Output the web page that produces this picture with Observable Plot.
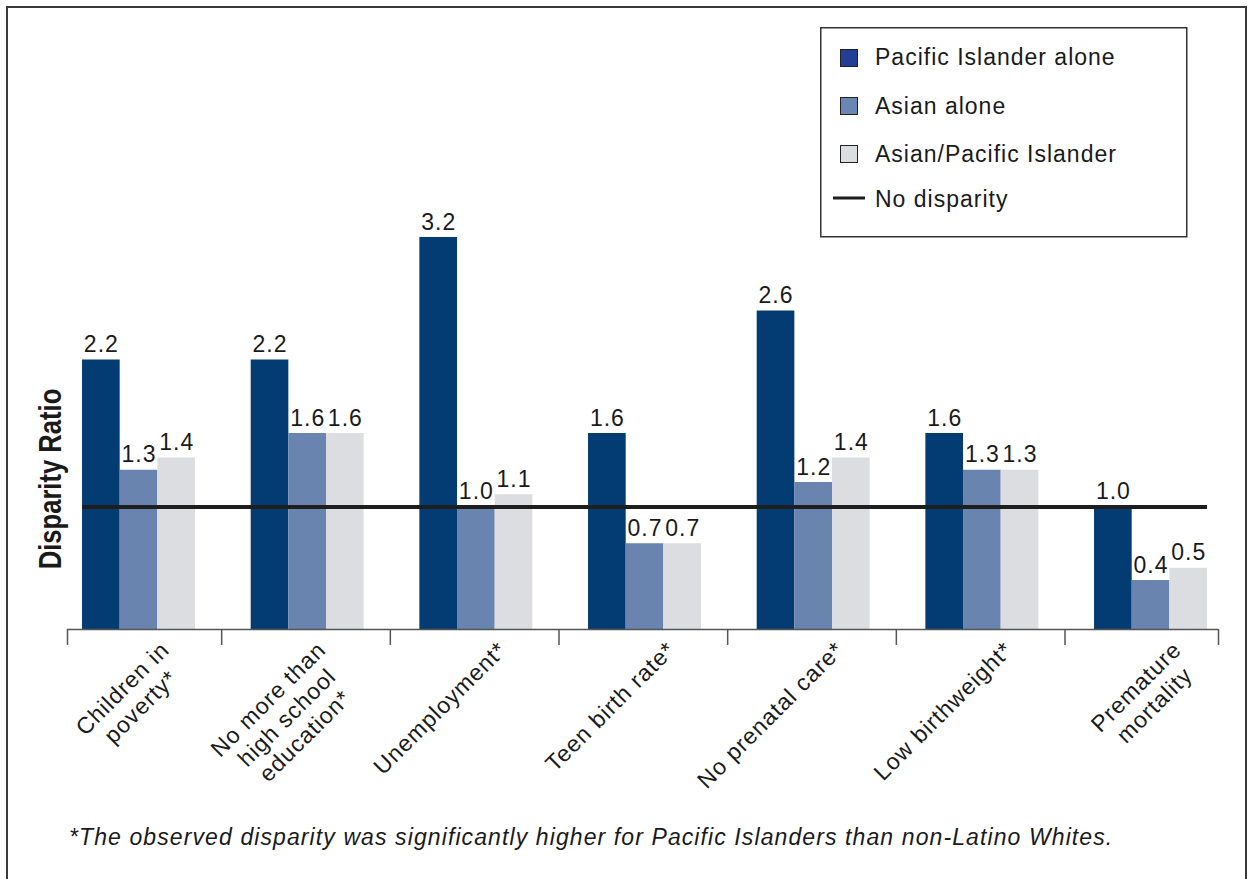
<!DOCTYPE html>
<html>
<head>
<meta charset="utf-8">
<script src="https://cdn.jsdelivr.net/npm/d3@7"></script>
<script src="https://cdn.jsdelivr.net/npm/@observablehq/plot@0.6"></script>
<style>
  html, body { margin: 0; padding: 0; background: #fff; overflow: hidden; }
  #wrap { position: relative; width: 1253px; height: 879px; overflow: hidden;
          font-family: "Liberation Sans", Arial, sans-serif; color: #1a1a1a; }
  #frame { position: absolute; left: 6px; top: 6px; width: 1241px; height: 910px;
           border: 2px solid #3a3a3a; box-sizing: border-box; }
  #chart { position: absolute; left: 0; top: 0; }
  #chart text { letter-spacing: 1px; }
  #legend { position: absolute; left: 820px; top: 27px; }
  #legend text { letter-spacing: 1px; }
  #ytitle { position: absolute; left: 50px; top: 479px; white-space: nowrap;
            font-weight: bold; font-size: 32px; line-height: 32px;
            transform: translate(-50%, -50%) rotate(-90deg) scaleX(0.8); color: #1a1a1a; }
  #foot { position: absolute; left: 69px; top: 826px; white-space: nowrap;
          font-style: italic; font-size: 23px; line-height: 23px; letter-spacing: 1.1px; color: #1a1a1a; }
</style>
</head>
<body>
<div id="wrap">
  <div id="frame"></div>
  <div id="chart"></div>
  <div id="legend"></div>
  <div id="ytitle"></div>
  <div id="foot"></div>
</div>
<script>
// ---- data ----
const categories = [
  "Children in\npoverty*",
  "No more than\nhigh school\neducation*",
  "Unemployment*",
  "Teen birth rate*",
  "No prenatal care*",
  "Low birthweight*",
  "Premature\nmortality"
];
const series = ["Pacific Islander alone", "Asian alone", "Asian/Pacific Islander"];
const pacificIslanderAlone = [2.2, 2.2, 3.2, 1.6, 2.6, 1.6, 1.0];
const asianAlone           = [1.3, 1.6, 1.0, 0.7, 1.2, 1.3, 0.4];
const asianPacificIslander = [1.4, 1.6, 1.1, 0.7, 1.4, 1.3, 0.5];
const noDisparity = 1.0;
const noDisparityLabel = "No disparity";
const barColors = ["#033c73", "#6984ae", "#dcdde0"];
const legendColors = ["#213f94", "#6a86b4", "#dcdde0"];
const yTitle = "Disparity Ratio";
const footnote = "*The observed disparity was significantly higher for Pacific Islanders than non-Latino Whites.";

// ---- table ----
const seriesValues = [pacificIslanderAlone, asianAlone, asianPacificIslander];
const rows = [];
seriesValues.forEach((arr, s) => arr.forEach((v, i) => rows.push({i, s, v, series: series[s]})));

const barW = 0.2233;
const g0 = -1.5 * barW;
const n = categories.length;
const axisStart = -0.424, axisEnd = n - 1 + 0.4;
const separators = [axisStart, ...d3.range(0, n - 1).map(i => i + 0.49), axisEnd];

// label offsets from measured text widths (top line end sits up-right of the group centre)
const ctx = document.createElement("canvas").getContext("2d");
ctx.font = "23px 'Liberation Sans', Arial";
const lw = s => ctx.measureText(s).width + s.length * 1;
const LH = 1.13;
const capOff = (0.71 * LH - 0.716) * 23;
const labelMarks = categories.map((c, i) => {
  const lines = c.split("\n");
  const W1 = lw(lines[0]);
  const extra = Math.max(0, lines.length - 2) * 12;
  const k = Math.SQRT1_2;
  return Plot.text([i], {
    x: d => d, y: 0, text: d => categories[d],
    rotate: -45, textAnchor: "middle", lineAnchor: "top", lineHeight: LH,
    fontSize: 23, fill: "#1a1a1a",
    dx: 20 - extra - k * W1 / 2 - k * capOff,
    dy: 10 + k * W1 / 2 - k * capOff
  });
});

const fmt = d3.format(".1f");
const chart = Plot.plot({
  width: 1253, height: 879,
  marginLeft: 67, marginRight: 35, marginTop: 139, marginBottom: 250,
  x: {domain: [axisStart, axisEnd], axis: null},
  y: {domain: [0, 4], axis: null},
  color: {domain: series, range: barColors},
  style: {fontFamily: "'Liberation Sans', Arial, sans-serif", fontSize: "23px", background: "transparent", overflow: "visible"},
  marks: [
    Plot.rectY(rows, {
      x1: d => d.i + g0 + d.s * barW, x2: d => d.i + g0 + (d.s + 1) * barW,
      y1: 0, y2: "v", fill: "series"
    }),
    Plot.ruleY([noDisparity], {x1: g0, x2: n - 1 - g0, stroke: "#1e1e1e", strokeWidth: 4}),
    Plot.ruleY([0], {x1: axisStart, x2: axisEnd, stroke: "#555", strokeWidth: 1.5}),
    Plot.ruleX(separators, {x: d => d, y1: 0, y2: -0.13, stroke: "#555", strokeWidth: 1.5}),
    Plot.text(rows, {
      x: d => d.i + g0 + (d.s + 0.5) * barW, y: "v", text: d => fmt(d.v),
      lineAnchor: "bottom", dy: -8, fontSize: 23, fill: "#1a1a1a"
    }),
    ...labelMarks
  ]
});
document.getElementById("chart").appendChild(chart);

// ---- legend ----
const leg = d3.select("#legend").append("svg").attr("width", 368).attr("height", 211);
leg.append("rect").attr("x", 0.75).attr("y", 0.75).attr("width", 366).attr("height", 209)
  .attr("fill", "#fff").attr("stroke", "#333").attr("stroke-width", 1.5);
series.forEach((s, k) => {
  const top = 22 + k * 48;
  leg.append("rect").attr("x", 20.5).attr("y", top + 0.5).attr("width", 17).attr("height", 17)
    .attr("fill", legendColors[k]).attr("stroke", "#222").attr("stroke-width", 1);
  leg.append("text").attr("x", 55).attr("y", 38 + k * 48.5)
    .attr("font-family", "'Liberation Sans', Arial, sans-serif").attr("font-size", 23)
    .attr("fill", "#1a1a1a").text(s);
});
leg.append("line").attr("x1", 13).attr("x2", 45).attr("y1", 171).attr("y2", 171)
  .attr("stroke", "#1e1e1e").attr("stroke-width", 3);
leg.append("text").attr("x", 55).attr("y", 180)
  .attr("font-family", "'Liberation Sans', Arial, sans-serif").attr("font-size", 23)
  .attr("fill", "#1a1a1a").text(noDisparityLabel);

document.getElementById("ytitle").textContent = yTitle;
document.getElementById("foot").textContent = footnote;
</script>
</body>
</html>
